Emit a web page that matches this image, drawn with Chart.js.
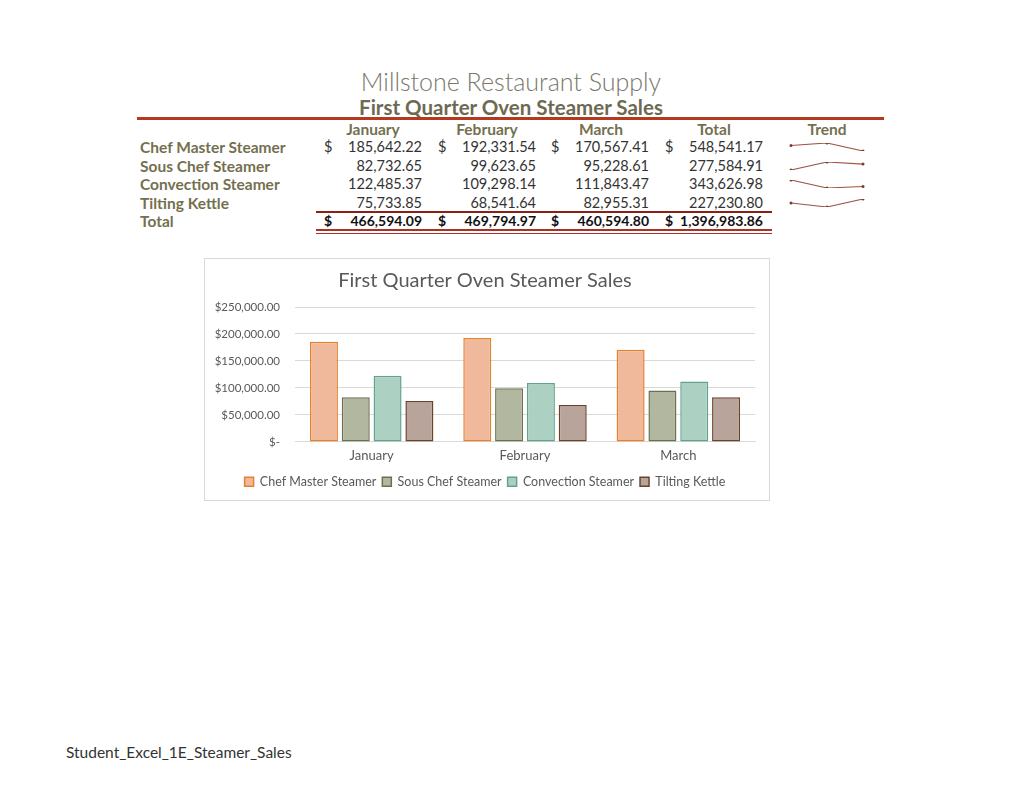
<!DOCTYPE html>
<html>
<head>
<meta charset="utf-8">
<title>Millstone Restaurant Supply</title>
<script src="https://cdn.jsdelivr.net/npm/chart.js@4.4.1/dist/chart.umd.min.js"></script>
<style>
  body { margin: 0; background: #fff; font-family: Lato, "Noto Sans", sans-serif; }
  #page { position: relative; width: 1024px; height: 791px; overflow: hidden; }
  .t { position: absolute; white-space: nowrap; line-height: 18px; height: 18px; }
  .hline { position: absolute; }
  #chartBox { position: absolute; left: 204px; top: 258px; width: 564px; height: 241px; border: 1px solid #d9d9d9; }
  #salesChart { position: absolute; left: 205px; top: 259px; }
  .spark { position: absolute; }
</style>
</head>
<body>
<div id="page">
  <div class="t" style="left:0;width:1022px;text-align:center;top:68px;line-height:26px;height:26px;font-size:25px;font-weight:300;color:#7a776a;">Millstone Restaurant Supply</div>
  <div class="t" style="left:0;width:1022px;text-align:center;top:97px;line-height:20px;height:20px;font-size:20.5px;font-weight:bold;color:#6e6a52;">First Quarter Oven Steamer Sales</div>
  <div class="hline" style="left:137px;top:117px;width:747px;height:3px;background:#b3391f;"></div>
  <div class="hline" style="left:316px;top:211px;width:456px;height:2px;background:#8e1f17;"></div>
  <div class="hline" style="left:316px;top:229px;width:456px;height:1.5px;background:#a93224;"></div>
  <div class="hline" style="left:316px;top:232.5px;width:456px;height:1.5px;background:#a93224;"></div>
  <div id="chartBox"></div>
  <canvas id="salesChart" width="564" height="248"></canvas>
  <div class="t" style="left:66px;top:743px;font-size:15.5px;color:#333;">Student_Excel_1E_Steamer_Sales</div>
</div>

<script>
// sales data, first quarter
const months = ['January', 'February', 'March'];
const products = ['Chef Master Steamer', 'Sous Chef Steamer', 'Convection Steamer', 'Tilting Kettle'];
const chefMaster = [185642.22, 192331.54, 170567.41];
const sousChef = [82732.65, 99623.65, 95228.61];
const convection = [122485.37, 109298.14, 111843.47];
const tiltingKettle = [75733.85, 68541.64, 82955.31];

const yMin = 0;
const yMax = 250000;
const yStep = 50000;

const fillColors = ['#f0b99c', '#b2b8a0', '#acd1c2', '#b8a49a'];
const lineColors = ['#e5822e', '#6b7150', '#62a38d', '#6a4428'];

const rows = [chefMaster, sousChef, convection, tiltingKettle];

function money(n) {
  return n.toLocaleString('en-US', {minimumFractionDigits: 2, maximumFractionDigits: 2});
}

const page = document.getElementById('page');
function put(text, x, y, opts) {
  const d = document.createElement('div');
  d.className = 't';
  d.textContent = text;
  d.style.top = (y - 9) + 'px';
  d.style.fontSize = (opts.size || 14.5) + 'px';
  d.style.color = opts.color || '#74704f';
  if (opts.bold) d.style.fontWeight = 'bold';
  if (opts.align === 'right') {
    d.style.right = (1024 - x) + 'px';
  } else if (opts.align === 'center') {
    d.style.left = (x - 100) + 'px';
    d.style.width = '200px';
    d.style.textAlign = 'center';
  } else {
    d.style.left = x + 'px';
  }
  page.appendChild(d);
}

// table
const headY = 129;
const rowY = [147, 166, 184, 203];
const totalY = 221;
const colRight = [422, 536, 649, 763];
const dollarX = [324, 438, 551, 665];
const headX = [373, 487, 601, 714];

months.forEach(function (m, i) { put(m, headX[i], headY, {align: 'center', bold: true, size: 15.5}); });
put('Total', headX[3], headY, {align: 'center', bold: true, size: 15.5});
put('Trend', 827, headY, {align: 'center', bold: true, size: 15.5});

const colTotals = [0, 0, 0];
rows.forEach(function (vals, r) {
  put(products[r], 140, rowY[r], {bold: true, size: 15.5});
  let sum = 0;
  vals.forEach(function (v, c) {
    sum += v;
    colTotals[c] += v;
    put(money(v), colRight[c], rowY[r], {align: 'right', color: '#333'});
    if (r === 0) put('$', dollarX[c], rowY[r], {color: '#333'});
  });
  put(money(Math.round(sum * 100) / 100), colRight[3], rowY[r], {align: 'right', color: '#333'});
  if (r === 0) put('$', dollarX[3], rowY[r], {color: '#333'});
});

put('Total', 140, totalY, {bold: true, size: 15.5});
let grand = 0;
colTotals.forEach(function (t, c) {
  grand += t;
  put(money(Math.round(t * 100) / 100), colRight[c], totalY, {align: 'right', bold: true, color: '#111', size: 14});
  put('$', dollarX[c], totalY, {bold: true, color: '#111', size: 14});
});
put('$', dollarX[3], totalY, {bold: true, color: '#111', size: 14});
put(money(Math.round(grand * 100) / 100), colRight[3], totalY, {align: 'right', bold: true, color: '#111', size: 14});

// sparklines
rows.forEach(function (vals, r) {
  const c = document.createElement('canvas');
  c.className = 'spark';
  c.width = 80;
  c.height = 16;
  c.style.left = '787px';
  c.style.top = (rowY[r] - 8) + 'px';
  page.appendChild(c);
  new Chart(c, {
    type: 'line',
    data: {
      labels: months,
      datasets: [{
        data: vals,
        borderColor: '#9c5645',
        borderWidth: 1.1,
        pointRadius: 1.5,
        pointBackgroundColor: '#7d3b2e',
        pointBorderWidth: 0,
        tension: 0
      }]
    },
    options: {
      responsive: false,
      animation: false,
      layout: {padding: 3},
      plugins: {legend: {display: false}, tooltip: {enabled: false}},
      scales: {
        x: {display: false},
        y: {display: false, min: Math.min.apply(null, vals), max: Math.max.apply(null, vals)}
      }
    }
  });
});

// column chart
new Chart(document.getElementById('salesChart'), {
  type: 'bar',
  data: {
    labels: months,
    datasets: rows.map(function (vals, i) {
      return {
        label: products[i],
        data: vals,
        backgroundColor: fillColors[i],
        borderColor: lineColors[i],
        borderWidth: 1.5,
        borderSkipped: false,
        categoryPercentage: 0.83,
        barPercentage: 0.88
      };
    })
  },
  options: {
    responsive: false,
    animation: false,
    layout: {padding: {left: 10, right: 14, top: 0, bottom: 9}},
    plugins: {
      title: {
        display: true,
        text: 'First Quarter Oven Steamer Sales',
        color: '#595959',
        font: {family: 'Lato', size: 20, weight: 'normal'},
        padding: {top: 10, bottom: 14}
      },
      legend: {
        position: 'bottom',
        labels: {
          boxWidth: 9,
          boxHeight: 9,
          padding: 6,
          color: '#595959',
          font: {family: 'Lato', size: 12.5}
        }
      },
      tooltip: {enabled: false}
    },
    scales: {
      x: {
        grid: {display: false, drawTicks: false},
        border: {color: '#d9d9d9'},
        ticks: {color: '#595959', font: {family: 'Lato', size: 13}, padding: 6}
      },
      y: {
        min: yMin,
        max: yMax,
        afterFit: function (scale) { scale.width = 80; },
        border: {display: false},
        grid: {color: '#d9d9d9', drawTicks: false},
        ticks: {
          stepSize: yStep,
          color: '#595959',
          padding: 15,
          font: {family: 'Lato', size: 11.5},
          callback: function (v) { return v === 0 ? '$-' : '$' + money(v); }
        }
      }
    }
  }
});
</script>
</body>
</html>
